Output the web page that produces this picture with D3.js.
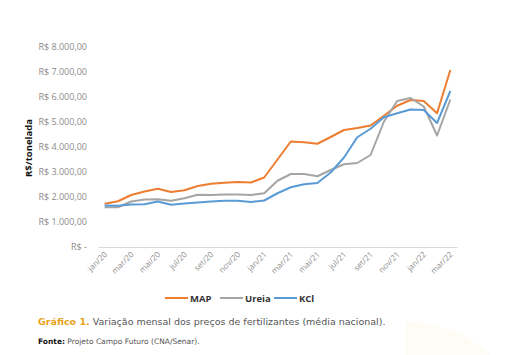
<!DOCTYPE html>
<html><head><meta charset="utf-8">
<script src="https://cdn.jsdelivr.net/npm/d3@7"></script>
<style>body{margin:0;background:#fff}svg{display:block}</style>
</head><body>
<svg id="c" width="508" height="355"></svg>
<script>
const months = ["jan/20","fev/20","mar/20","abr/20","mai/20","jun/20","jul/20","ago/20","set/20","out/20","nov/20","dez/20",
"jan/21","fev/21","mar/21","abr/21","mai/21","jun/21","jul/21","ago/21","set/21","out/21","nov/21","dez/21",
"jan/22","fev/22","mar/22"];
const mapValues = [1730,1830,2080,2220,2330,2200,2270,2440,2530,2570,2600,2580,2780,3500,4220,4190,4130,4400,4680,4760,4860,5250,5650,5880,5840,5350,7080];
const ureiaValues = [1590,1590,1820,1900,1910,1850,1950,2090,2080,2100,2100,2080,2150,2650,2920,2920,2830,3080,3310,3360,3680,5010,5840,5960,5620,4460,5900];
const kclValues = [1660,1650,1700,1710,1820,1690,1740,1780,1820,1850,1850,1800,1860,2150,2390,2510,2560,2980,3580,4390,4730,5190,5350,5500,5480,4960,6240];
const yTicks = [0,1000,2000,3000,4000,5000,6000,7000,8000];
const seriesNames = ["MAP","Ureia","KCl"];
const seriesColors = ["#ED7D31","#A5A5A5","#5B9BD5"];

const svg = d3.select("#c");
const x = d3.scaleBand().domain(months).range([98,457]);
const y = d3.scaleLinear().domain([0,8000]).range([247,47]);
const fmt = v => v === 0 ? "R$ -" : "R$ " + d3.format(",.2f")(v).replace(/,/g,"#").replace(/\./g,",").replace(/#/g,".");

// faint watermark
svg.append("path").attr("d","M406,355 L406,322 C440,322 470,335 490,355 Z").attr("fill","#fffcf5");

// y axis labels
const ya = svg.append("g").attr("transform","translate(87,0)")
  .call(d3.axisLeft(y).tickValues(yTicks).tickSize(0).tickPadding(0).tickFormat(fmt));
ya.select(".domain").remove();
ya.selectAll("text").attr("fill","#8c8c8c").style("font-family","Open Sans, sans-serif").style("font-size","9px");

// x axis
const xa = svg.append("g").attr("transform","translate(0,247)")
  .call(d3.axisBottom(x).tickValues(months.filter((d,i)=>i%2===0)).tickSize(0).tickPadding(0));
xa.select(".domain").attr("stroke","#d9d9d9").attr("stroke-width",1.2);
xa.selectAll("text").attr("fill","#8c8c8c").style("font-family","Open Sans, sans-serif").style("font-size","8px")
  .attr("text-anchor","end").attr("dx","0").attr("dy","0")
  .attr("transform","translate(3,8) rotate(-45)");

// y title
svg.append("text").attr("transform","translate(32,148) rotate(-90)").attr("text-anchor","middle")
  .style("font-family","Open Sans, sans-serif").style("font-size","9.5px").style("font-weight","bold").attr("fill","#111")
  .text("R$/tonelada");

const line = d3.line().x((d,i)=>x(months[i])+x.bandwidth()/2).y(d=>y(d));
[mapValues,ureiaValues,kclValues].forEach((vals,k)=>{
  svg.append("path").datum(vals).attr("d",line).attr("fill","none")
    .attr("stroke",seriesColors[k]).attr("stroke-width",2).attr("stroke-linejoin","round");
});

// legend
const lx = [165,220,274];
seriesNames.forEach((n,k)=>{
  const g = svg.append("g").attr("transform",`translate(${lx[k]},298)`);
  g.append("line").attr("x1",0).attr("x2",23).attr("stroke",seriesColors[k]).attr("stroke-width",2);
  g.append("text").attr("x",25).attr("y",3.5).style("font-family","Open Sans, sans-serif").style("font-size","9.5px")
    .style("font-weight","bold").attr("fill","#333").text(n);
});

// caption
const cap = svg.append("text").attr("x",38).attr("y",325).style("font-family","DejaVu Sans, sans-serif").style("font-size","9.5px");
cap.append("tspan").attr("fill","#e8a317").style("font-weight","bold").text("Gráfico 1.");
cap.append("tspan").attr("fill","#555").text(" Variação mensal dos preços de fertilizantes (média nacional).");
const src = svg.append("text").attr("x",38).attr("y",344).style("font-family","DejaVu Sans, sans-serif").style("font-size","7.5px");
src.append("tspan").attr("fill","#111").style("font-weight","bold").text("Fonte:");
src.append("tspan").attr("fill","#555").text(" Projeto Campo Futuro (CNA/Senar).");
</script>
</body></html>
